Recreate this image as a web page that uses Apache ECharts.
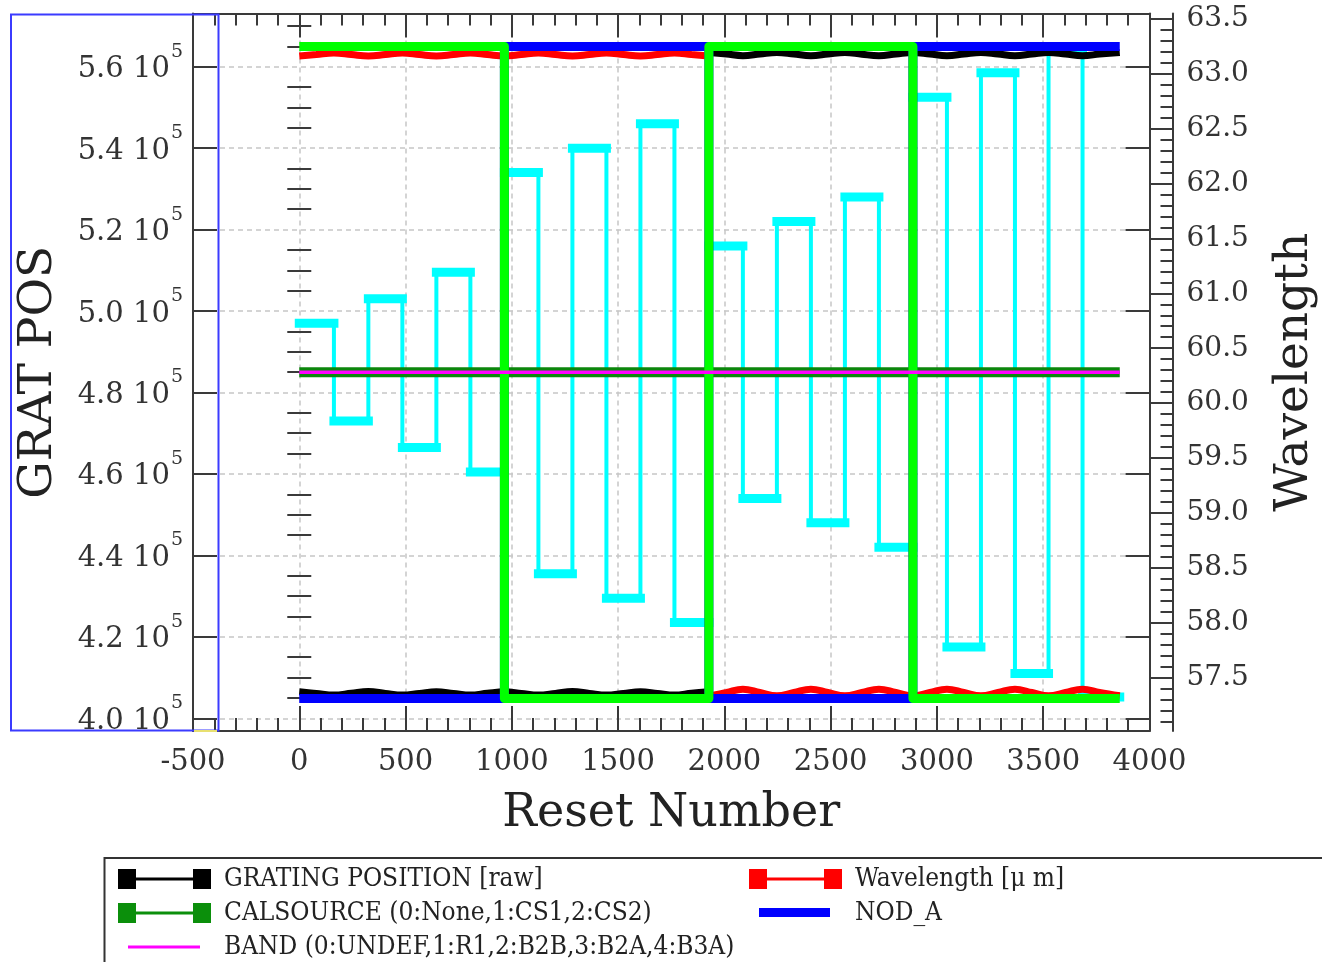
<!DOCTYPE html>
<html>
<head>
<meta charset="utf-8">
<title>GRAT POS / Wavelength vs Reset Number</title>
<script src="https://cdn.jsdelivr.net/npm/echarts@6.0.0/dist/echarts.min.js"></script>
<style>
  html, body { margin: 0; padding: 0; background: #fff; }
  #chart { width: 1322px; height: 962px; }
</style>
</head>
<body>
<div id="chart"></div>
<script>
  // cyan step trace: reset number where each plateau starts, and its level
  var stepStarts = [0, 163, 325, 485, 645, 805, 965, 1125, 1285, 1445, 1605, 1765,
                    1927, 2087, 2247, 2407, 2567, 2727, 2887, 3047, 3207, 3367, 3525, 3685];
  var stepLevels = [497000, 473000, 503000, 466500, 509500, 460500, 534000, 435500, 540000, 429500, 546000, 423500,
                    516000, 454000, 522000, 448000, 528000, 442000, 552500, 417500, 558500, 411000, 564000, 405200];
  var runEnd = 3860;

  // nod switching (0/1)
  var nodX = [0, 965, 1927, 2887];
  var nodA = [0, 1, 0, 1];
  var nodB = [1, 0, 1, 0];

  // constant traces
  var calX = [0, 3860];
  var calVal = [0, 0];
  var bandVal = [3, 3];

  // grating position and wavelength, sampled along the run ('-' = break at the jump)
  var sampleX = [0, 80, 163, 245, 325, 405, 485, 565, 645, 725, 805, 885, 965, 1045, 1125, 1205,
                 1285, 1365, 1445, 1525, 1605, 1685, 1765, 1845, 1925, 1927,
                 1930, 2010, 2087, 2167, 2247, 2327, 2407, 2487, 2567, 2647, 2727, 2807, 2887, 2967,
                 3047, 3127, 3207, 3287, 3367, 3447, 3525, 3605, 3685, 3765, 3860];
  var gratVal = [406500, 406100, 405700, 406150, 406550, 406100, 405700, 406100, 406500, 406100, 405700, 406150,
                 406500, 406100, 405700, 406100, 406550, 406100, 405700, 406100, 406500, 406100, 405700, 406150, 406500, '-',
                 563500, 563100, 562700, 563100, 563500, 563100, 562700, 563100, 563500, 563050, 562700, 563100,
                 563500, 563100, 562700, 563100, 563500, 563100, 562700, 563100, 563500, 563100, 562700, 563100, 563500];
  var waveVal = [63.159, 63.172, 63.186, 63.172, 63.159, 63.172, 63.186, 63.172, 63.159, 63.172, 63.186, 63.172,
                 63.159, 63.172, 63.186, 63.172, 63.159, 63.172, 63.186, 63.172, 63.159, 63.172, 63.186, 63.172, 63.159, '-',
                 57.338, 57.368, 57.398, 57.368, 57.338, 57.368, 57.398, 57.368, 57.338, 57.368, 57.398, 57.368,
                 57.338, 57.368, 57.398, 57.368, 57.338, 57.368, 57.398, 57.368, 57.338, 57.368, 57.398, 57.368, 57.338];

  // axis ticks
  var xTicks = ['-500', '0', '500', '1000', '1500', '2000', '2500', '3000', '3500', '4000'];
  var gratTicks = [400000, 420000, 440000, 460000, 480000, 500000, 520000, 540000, 560000];
  var waveTicks = [57.5, 58.0, 58.5, 59.0, 59.5, 60.0, 60.5, 61.0, 61.5, 62.0, 62.5, 63.0, 63.5];

  var gratMin = 396880, gratMax = 573060;
  var waveMin = 57.018, waveMax = 63.545;

  function minorTicks(lo, hi, step, major, digits) {
    var out = [];
    var f = Math.pow(10, digits);
    for (var v = lo; v <= hi + step / 2; v += step) {
      var r = Math.round(v * f) / f;
      if (major.indexOf(r) < 0) out.push(r);
    }
    return out;
  }
  var gratMinor = minorTicks(400000, 570000, 5000, gratTicks, 0);
  var waveMinor = minorTicks(57.1, 63.5, 0.1, waveTicks, 1);

  var FONT = "'DejaVu Serif', serif";
  var LEGEND_FONT = "'DejaVu Serif Condensed', 'Liberation Serif', serif";
  var AXIS = '#3a3a3a';
  var GRIDLINE = { color: '#c6c6c6', width: 1.5, type: [5, 4] };

  var chart = echarts.init(document.getElementById('chart'));

  function tickAxis(pos, offset, min, max, values, len) {
    return {
      type: 'value', position: pos, offset: offset, min: min, max: max,
      axisLine: { show: false },
      axisTick: { show: true, inside: true, length: len, customValues: values,
                  lineStyle: { color: AXIS, width: 2 } },
      axisLabel: { show: false },
      splitLine: { show: false }
    };
  }

  var cyanLine = stepStarts.map(function (x, i) { return [x, stepLevels[i]]; });
  cyanLine.push([runEnd, stepLevels[stepLevels.length - 1]]);
  var cyanBars = [];
  stepStarts.forEach(function (x, i) {
    var xe = i + 1 < stepStarts.length ? stepStarts[i + 1] : runEnd;
    cyanBars.push([x, stepLevels[i]], [xe, stepLevels[i]], [xe, '-']);
  });
  function nodData(vals) {
    var d = nodX.map(function (x, i) { return [x, vals[i]]; });
    d.push([runEnd, vals[vals.length - 1]]);
    return d;
  }
  function zip(xs, ys) { return xs.map(function (x, i) { return [x, ys[i]]; }); }

  var bar2 = 'path://M0,0H18V20H0Z M75,0H93V20H75Z M18,8.5H75V11.5H18Z';
  var thickBar = 'path://M0,0h0.01v0.01h-0.01Z M10,5H81V14H10Z M92.99,19.99h0.01v0.01h-0.01Z';
  var thinBar = 'path://M0,0h0.01v0.01h-0.01Z M10,8.5H82V11.5H10Z M92.99,19.99h0.01v0.01h-0.01Z';
  var legendText = { fontFamily: LEGEND_FONT, fontSize: 26, color: '#222', padding: [0, 0, 0, 8] };

  chart.setOption({
    animation: false,
    backgroundColor: '#fff',
    grid: { left: 193, right: 172.5, top: 13.5, bottom: 231, containLabel: false, outerBoundsMode: 'none' },
    xAxis: [{
      type: 'value', position: 'bottom', min: -500, max: 4000, interval: 500,
      axisLine: { show: true, onZero: false, lineStyle: { color: AXIS, width: 2 } },
      axisTick: { show: true, inside: true, length: 25, lineStyle: { color: AXIS, width: 2 } },
      minorTick: { show: true, splitNumber: 5, length: 13, lineStyle: { color: AXIS, width: 2 } },
      axisLabel: { show: true, interval: 0, margin: 17, fontFamily: FONT, fontSize: 29, color: '#333',
                   formatter: function (v) { return xTicks[Math.round((v + 500) / 500)]; } },
      splitLine: { show: true, lineStyle: GRIDLINE },
      name: 'Reset Number', nameLocation: 'middle', nameGap: 60, nameMoveOverlap: false,
      nameTextStyle: { fontFamily: FONT, fontSize: 46, color: '#222' }
    }, {
      type: 'value', position: 'top', min: -500, max: 4000, interval: 500,
      axisLine: { show: true, onZero: false, lineStyle: { color: AXIS, width: 2 } },
      axisTick: { show: true, inside: true, length: 24, lineStyle: { color: AXIS, width: 2 } },
      minorTick: { show: true, splitNumber: 5, length: 12, lineStyle: { color: AXIS, width: 2 } },
      axisLabel: { show: false },
      splitLine: { show: false }
    }],
    yAxis: [{
      type: 'value', position: 'left', min: gratMin, max: gratMax, splitNumber: 8,
      axisLine: { show: true, onZero: false, lineStyle: { color: AXIS, width: 2 } },
      axisTick: { show: true, inside: true, length: 24, customValues: gratTicks,
                  lineStyle: { color: AXIS, width: 2 } },
      axisLabel: {
        show: true, customValues: gratTicks, margin: 10,
        formatter: function (v) { return '{m|' + (v / 1e5).toFixed(1) + ' 10}{s|5}'; },
        rich: {
          m: { fontFamily: FONT, fontSize: 29, color: '#333', padding: [6, 0, 0, 0] },
          s: { fontFamily: FONT, fontSize: 19, color: '#333', padding: [0, 0, 30, 1] }
        }
      },
      splitLine: { show: true, lineStyle: GRIDLINE },
      name: 'GRAT POS', nameLocation: 'middle', nameGap: 131, nameRotate: 90, nameMoveOverlap: false,
      nameTextStyle: { fontFamily: FONT, fontSize: 47, color: '#222' }
    },
    tickAxis('left', 0, gratMin, gratMax, gratMinor, 12),
    (function () {
      var a = tickAxis('right', 0, gratMin, gratMax, gratTicks, 24);
      a.axisLine = { show: true, onZero: false, lineStyle: { color: AXIS, width: 2 } };
      return a;
    })(),
    tickAxis('right', 0, gratMin, gratMax, gratMinor, 12),
    {
      type: 'value', position: 'right', offset: 23, min: waveMin, max: waveMax,
      axisLine: { show: true, onZero: false, lineStyle: { color: AXIS, width: 2 } },
      axisTick: { show: true, inside: true, length: 23, customValues: waveTicks,
                  lineStyle: { color: AXIS, width: 2 } },
      axisLabel: { show: true, customValues: waveTicks, margin: 14, fontFamily: FONT, fontSize: 28, color: '#333',
                   padding: [6, 0, 0, 0],
                   formatter: function (v) { return v.toFixed(1); } },
      splitLine: { show: false },
      name: 'Wavelength', nameLocation: 'middle', nameGap: 99, nameRotate: 90, nameMoveOverlap: false,
      nameTextStyle: { fontFamily: FONT, fontSize: 47, color: '#222' }
    },
    tickAxis('right', 23, waveMin, waveMax, waveMinor, 12),
    { type: 'value', show: false, min: -0.0498, max: 1.0506 },
    { type: 'value', show: false, min: -1, max: 1 },
    { type: 'value', show: false, min: 2, max: 4 }
    ],
    legend: [{
      orient: 'vertical', left: 118, top: 866, height: 200, padding: 0, itemWidth: 93, itemHeight: 20, itemGap: 8,
      selectedMode: false, symbolKeepAspect: false, textStyle: legendText,
      data: [{ name: 'GRATING POSITION [raw]', icon: bar2 },
             { name: 'CALSOURCE (0:None,1:CS1,2:CS2)', icon: bar2 },
             { name: 'BAND (0:UNDEF,1:R1,2:B2B,3:B2A,4:B3A)', icon: thinBar }]
    }, {
      orient: 'vertical', left: 749, top: 866, height: 200, padding: 0, itemWidth: 93, itemHeight: 20, itemGap: 8,
      selectedMode: false, symbolKeepAspect: false, textStyle: legendText,
      data: [{ name: 'Wavelength [\u03bc m]', icon: bar2 },
             { name: 'NOD_A', icon: thickBar }]
    }],
    graphic: [
      { type: 'rect', z: 100, silent: true, shape: { x: 11, y: 14.5, width: 207.5, height: 716 },
        style: { fill: 'none', stroke: '#3b3bff', lineWidth: 2 } },
      { type: 'line', z: 100, silent: true, shape: { x1: 194, y1: 731, x2: 217, y2: 731 },
        style: { stroke: '#e8e070', lineWidth: 2 } },
      { type: 'rect', z: 100, silent: true, shape: { x: 104.5, y: 858, width: 1300, height: 200 },
        style: { fill: 'none', stroke: '#333', lineWidth: 2 } }
    ],
    series: [{
      name: 'step', type: 'line', xAxisIndex: 0, yAxisIndex: 0, step: 'end', silent: true,
      showSymbol: false, symbol: 'none', data: cyanLine,
      lineStyle: { color: '#00ffff', width: 4 }, itemStyle: { color: '#00ffff' }
    }, {
      name: 'stepBars', type: 'line', xAxisIndex: 0, yAxisIndex: 0, silent: true, connectNulls: false,
      showSymbol: false, symbol: 'none', data: cyanBars,
      lineStyle: { color: '#00ffff', width: 9, cap: 'square' }, itemStyle: { color: '#00ffff' }
    }, {
      name: 'GRATING POSITION [raw]', type: 'line', xAxisIndex: 0, yAxisIndex: 0, silent: true,
      showSymbol: false, symbol: 'none', smooth: 0.4, connectNulls: false, data: zip(sampleX, gratVal),
      lineStyle: { color: '#000', width: 7 }, itemStyle: { color: '#000' }
    }, {
      name: 'Wavelength [\u03bc m]', type: 'line', xAxisIndex: 0, yAxisIndex: 4, silent: true,
      showSymbol: false, symbol: 'none', smooth: 0.4, connectNulls: false, data: zip(sampleX, waveVal),
      lineStyle: { color: '#ff0000', width: 7 }, itemStyle: { color: '#ff0000' }
    }, {
      name: 'NOD_A', type: 'line', xAxisIndex: 0, yAxisIndex: 6, step: 'end', silent: true,
      showSymbol: false, symbol: 'none', data: nodData(nodA),
      lineStyle: { color: '#0000ff', width: 9 }, itemStyle: { color: '#0000ff' }
    }, {
      name: 'CALSOURCE (0:None,1:CS1,2:CS2)', type: 'line', xAxisIndex: 0, yAxisIndex: 7, silent: true,
      showSymbol: false, symbol: 'none', data: zip(calX, calVal),
      lineStyle: { color: '#0b860b', width: 10 }, itemStyle: { color: '#0b8f0b' }
    }, {
      name: 'NOD_B', type: 'line', xAxisIndex: 0, yAxisIndex: 6, step: 'end', silent: true,
      showSymbol: false, symbol: 'none', data: nodData(nodB),
      lineStyle: { color: '#00ff00', width: 9, join: 'round' }, itemStyle: { color: '#00ff00' }
    }, {
      name: 'BAND (0:UNDEF,1:R1,2:B2B,3:B2A,4:B3A)', type: 'line', xAxisIndex: 0, yAxisIndex: 8, silent: true,
      showSymbol: false, symbol: 'none', data: zip(calX, bandVal),
      lineStyle: { color: '#ff00ff', width: 3.5 }, itemStyle: { color: '#ff00ff' }
    }]
  });
</script>
</body>
</html>
